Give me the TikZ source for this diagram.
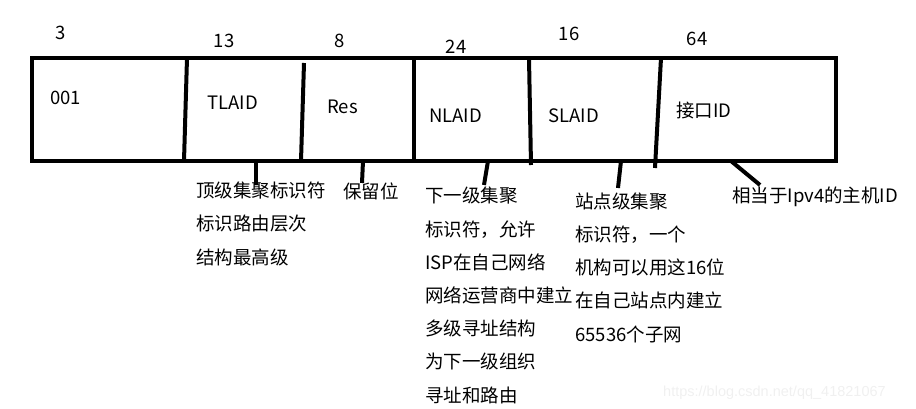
\documentclass[tikz,border=0pt]{standalone}
\usepackage{fontspec}
\setmainfont{Noto Sans CJK SC}
\newfontfamily\markfont{Liberation Sans}

\begin{document}
\begin{tikzpicture}[x=1pt,y=-1pt,
    bar/.style={line width=4pt},
    bits/.style={anchor=base,inner sep=0pt,font=\fontsize{18.5}{22}\selectfont},
    field/.style={anchor=base west,inner sep=0pt,font=\fontsize{18.5}{22}\selectfont},
    note/.style={anchor=base west,align=left,inner sep=0pt,font=\fontsize{18.5}{33.2}\selectfont}]
    \useasboundingbox (0,0) rectangle (916,409);
    % address box and field borders
    \draw[bar] (32,58) rectangle (836,161);
    \draw[bar] (187,58) -- (184,161);
    \draw[bar] (304,63) -- (301,161);
    \draw[bar] (414,58) -- (414,161);
    \draw[bar] (529,58) -- (531,165);
    \draw[bar] (661,58) -- (655,168);
    % bit counts
    \node[bits] (nTop) at (61,40) {3};
    \node[bits] (nTla) at (224,48) {13};
    \node[bits] (nRes) at (340,48) {8};
    \node[bits] (nNla) at (456,54) {24};
    \node[bits] (nSla) at (569,41) {16};
    \node[bits] (nIfc) at (697,46) {64};
    % field names
    \node[field] (fTop) at (50,105) {001};
    \node[field] (fTla) at (207,110) {TLAID};
    \node[field] (fRes) at (327,114) {Res};
    \node[field] (fNla) at (429,123) {NLAID};
    \node[field] (fSla) at (548,123) {SLAID};
    \node[field] (fIfc) at (676,118) {接口ID};
    % explanations (placed at the baseline of their last line)
    \node[note] (eTla) at (196,264) {顶级集聚标识符\\标识路由层次\\结构最高级};
    \node[note] (eRes) at (343,198) {保留位};
    \node[note] (eNla) at (425,402) {下一级集聚\\标识符，允许\\ISP在自己网络\\网络运营商中建立\\多级寻址结构\\为下一级组织\\寻址和路由};
    \node[note] (eSla) at (575,341) {站点级集聚\\标识符，一个\\机构可以用这16位\\在自己站点内建立\\65536个子网};
    \node[note] (eIfc) at (732,203) {相当于Ipv4的主机ID};
    % pointers
    \coordinate (pTla) at (256,161);
    \coordinate (qTla) at (256,185);
    \coordinate (pRes) at (363,161);
    \coordinate (qRes) at (362,183);
    \coordinate (pNla) at (488,161);
    \coordinate (qNla) at (484,185);
    \coordinate (pSla) at (621,161);
    \coordinate (qSla) at (618,188);
    \coordinate (pIfc) at (731,161);
    \coordinate (qIfc) at (760,185);
    \draw[bar] (pTla) -- (qTla);
    \draw[bar] (pRes) -- (qRes);
    \draw[bar] (pNla) -- (qNla);
    \draw[bar] (pSla) -- (qSla);
    \draw[bar] (pIfc) -- (qIfc);
    \node[anchor=base west,inner sep=0pt,text=black!6,font=\markfont\fontsize{14.5}{16}\selectfont] (wm) at (663,396) {https://blog.csdn.net/qq\_41821067};
\end{tikzpicture}
\end{document}
